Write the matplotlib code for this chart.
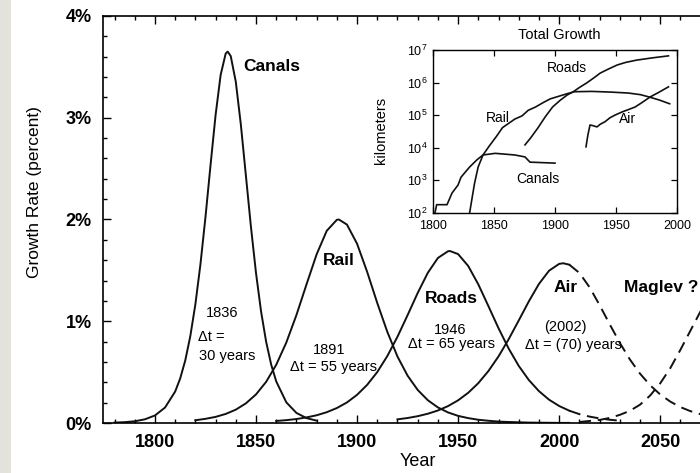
import matplotlib
matplotlib.use('Agg')
import matplotlib.pyplot as plt
from matplotlib.ticker import MultipleLocator, FuncFormatter, NullLocator, FixedLocator
from matplotlib.patches import Rectangle

plt.rcParams['font.family'] = ['Liberation Sans', 'DejaVu Sans']
plt.rcParams['mathtext.fontset'] = 'custom'
plt.rcParams['mathtext.rm'] = 'Liberation Sans'
plt.rcParams['mathtext.it'] = 'Liberation Sans:italic'
plt.rcParams['mathtext.bf'] = 'Liberation Sans:bold'

# ---------------- main chart data (growth rate, percent per year) ----------------
canals_years = [1780, 1785, 1790, 1795, 1800, 1805, 1810, 1812.5, 1815, 1817.5, 1820, 1822.5,
                1825, 1827.5, 1830, 1832.5, 1835, 1836, 1837.5, 1840, 1842.5, 1845, 1847.5,
                1850, 1852.5, 1855, 1857.5, 1860, 1865, 1870, 1875, 1880]
canals_rate = [0.004, 0.008, 0.017, 0.036, 0.074, 0.152, 0.309, 0.438, 0.615, 0.854, 1.166, 1.558,
               2.024, 2.534, 3.026, 3.420, 3.631, 3.650, 3.606, 3.354, 2.933, 2.431, 1.927,
               1.474, 1.097, 0.800, 0.575, 0.409, 0.203, 0.099, 0.048, 0.023]

rail_years = [1820, 1825, 1830, 1835, 1840, 1845, 1850, 1855, 1860, 1865, 1870, 1875, 1880,
              1885, 1890, 1891, 1895, 1900, 1905, 1910, 1915, 1920, 1925, 1930, 1935, 1940,
              1945, 1950, 1955, 1960, 1965, 1970, 1975, 1980, 1985, 1990, 1995, 2000, 2005]
rail_rate = [0.027, 0.041, 0.060, 0.089, 0.131, 0.193, 0.281, 0.404, 0.572, 0.791, 1.061, 1.363,
             1.658, 1.889, 1.997, 2.000, 1.950, 1.762, 1.485, 1.179, 0.894, 0.653, 0.465, 0.325,
             0.224, 0.153, 0.104, 0.070, 0.048, 0.032, 0.022, 0.014, 0.010, 0.007, 0.004,
             0.003, 0.002, 0.001, 0.001]

roads_years = [1860, 1865, 1870, 1875, 1880, 1885, 1890, 1895, 1900, 1905, 1910, 1915, 1920,
               1925, 1930, 1935, 1940, 1945, 1946, 1950, 1955, 1960, 1965, 1970, 1975, 1980,
               1985, 1990, 1995, 2000, 2005, 2010, 2015, 2020, 2025, 2030]
roads_rate = [0.020, 0.028, 0.039, 0.055, 0.076, 0.106, 0.147, 0.202, 0.277, 0.375, 0.501, 0.659,
              0.848, 1.060, 1.278, 1.476, 1.622, 1.688, 1.690, 1.660, 1.543, 1.362, 1.148, 0.931,
              0.732, 0.561, 0.422, 0.313, 0.229, 0.167, 0.121, 0.087, 0.063, 0.045, 0.032, 0.023]

air_years = [1920, 1925, 1930, 1935, 1940, 1945, 1950, 1955, 1960, 1965, 1970, 1975, 1980,
             1985, 1990, 1995, 2000, 2002, 2005, 2010, 2015, 2020, 2025, 2030, 2035, 2040,
             2045, 2050, 2055, 2060, 2065, 2070, 2075, 2080]
air_rate = [0.036, 0.049, 0.067, 0.091, 0.123, 0.166, 0.223, 0.297, 0.392, 0.511, 0.655, 0.823,
            1.008, 1.196, 1.367, 1.497, 1.564, 1.570, 1.556, 1.475, 1.335, 1.159, 0.970, 0.788,
            0.624, 0.485, 0.371, 0.280, 0.210, 0.156, 0.116, 0.086, 0.063, 0.046]

maglev_years = [2010, 2015, 2020, 2025, 2030, 2035, 2040, 2045, 2050, 2055, 2060, 2065, 2070, 2075]
maglev_rate = [0.01, 0.02, 0.03, 0.05, 0.08, 0.12, 0.18, 0.27, 0.39, 0.54, 0.72, 0.91, 1.10, 1.28]

y_ticks = [0, 1, 2, 3, 4]

# ---------------- inset data (total length, km) ----------------
in_canals_years = [1801.6, 1803, 1811.5, 1815.6, 1820.5, 1823, 1830, 1836, 1841, 1851, 1867,
                   1875.4, 1879.5, 1900]
in_canals_km = [100, 180, 180, 410, 720, 1260, 2570, 4270, 6030, 6760, 6030, 5250, 3630, 3390]

in_rail_years = [1830, 1834, 1837, 1841, 1846, 1852, 1857, 1862, 1867, 1873, 1878, 1884, 1890,
                 1896, 1903, 1910, 1916, 1930, 1945, 1960, 1970, 1978, 1986, 1994]
in_rail_km = [100, 794, 2570, 6030, 11200, 22400, 41700, 56200, 75900, 95500, 141000, 178000,
              240000, 316000, 380000, 457000, 525000, 537000, 513000, 479000, 427000, 355000,
              288000, 224000]

in_roads_years = [1875.4, 1880, 1886, 1892, 1898, 1904, 1910, 1915, 1920, 1926, 1932, 1937, 1944,
                  1951, 1958, 1967, 1980, 1993]
in_roads_km = [12300, 20000, 40700, 89100, 178000, 282000, 417000, 525000, 708000, 977000,
               1410000, 1950000, 2630000, 3470000, 4170000, 4900000, 5750000, 6610000]

in_air_years = [1925.4, 1927, 1928.7, 1931, 1934.4, 1937, 1941, 1945, 1949, 1955, 1960, 1965.6,
                1971, 1978, 1985, 1993]
in_air_km = [10700, 25100, 50100, 47900, 43700, 52500, 63100, 83200, 100000, 126000, 148000,
             178000, 240000, 363000, 501000, 741000]

# ---------------- figure ----------------
W, H = 700, 473
fig = plt.figure(figsize=(W / 100, H / 100), dpi=100)
fig.patch.set_facecolor('white')
fig.patches.append(Rectangle((0, 0), 11 / W, 1, transform=fig.transFigure,
                             facecolor='#e4e2dc', edgecolor='none', zorder=-1))

ax = fig.add_axes([103 / W, 1 - 423 / H, 630 / W, 407 / H])
ax.set_xlim(1774.3, 2086)
ax.set_ylim(0, 4)

lw = 1.4
dash = (0, (6, 3.5))
ink = '#111111'


def split(xs, ys, at):
    a = [(x, y) for x, y in zip(xs, ys) if x <= at]
    b = [(x, y) for x, y in zip(xs, ys) if x >= at]
    return list(zip(*a)), list(zip(*b))


ax.plot(canals_years, canals_rate, color=ink, lw=lw)
ax.plot(rail_years, rail_rate, color=ink, lw=lw)
(rs, rd) = split(roads_years, roads_rate, 2005)
ax.plot(rs[0], rs[1], color=ink, lw=lw)
ax.plot(rd[0], rd[1], color=ink, lw=lw, linestyle=dash)
(as_, ad) = split(air_years, air_rate, 2005)
ax.plot(as_[0], as_[1], color=ink, lw=lw)
ax.plot(ad[0], ad[1], color=ink, lw=lw, linestyle=dash)
ax.plot(maglev_years, maglev_rate, color=ink, lw=lw, linestyle=dash)

ax.xaxis.set_major_locator(MultipleLocator(50))
ax.xaxis.set_minor_locator(MultipleLocator(10))
ax.yaxis.set_major_locator(FixedLocator(y_ticks))
ax.yaxis.set_minor_locator(MultipleLocator(0.2))
ax.yaxis.set_major_formatter(FuncFormatter(lambda v, p: f"{int(round(v))}%"))
ax.tick_params(which='both', direction='in', top=True, right=False, colors='black')
ax.tick_params(which='major', length=6, width=1, labelsize=13, pad=8)
ax.tick_params(which='minor', length=3, width=1)
for lab in ax.get_xticklabels() + ax.get_yticklabels():
    lab.set_fontweight('bold')
for s in ['left', 'bottom', 'top']:
    ax.spines[s].set_linewidth(1.2)
ax.spines['right'].set_visible(False)

fig.text(35 / W, 1 - 192 / H, 'Growth Rate (percent)', rotation=90, ha='center', va='center',
         fontsize=12.5)
fig.text(418 / W, 1 - 461 / H, 'Year', ha='center', va='center', fontsize=13)

# bold curve names
bold = dict(fontsize=12.5, fontweight='bold', va='center')
ax.text(1843.6, 3.50, 'Canals', ha='left', **bold)
ax.text(1891.1, 1.60, 'Rail', ha='center', **bold)
ax.text(1946.8, 1.22, 'Roads', ha='center', **bold)
ax.text(2003.0, 1.33, 'Air', ha='center', **bold)
ax.text(2050.5, 1.33, 'Maglev ?', ha='center', **bold)

# annotations
norm = dict(fontsize=10.5, ha='center', va='center')
ax.text(1833.4, 1.08, '1836', **norm)
ax.text(1827.7, 0.845, '\u0394t =', **norm)
ax.text(1835.9, 0.66, '30 years', **norm)
ax.text(1886.1, 0.72, '1891', **norm)
ax.text(1888.4, 0.55, '\u0394t = 55 years', **norm)
ax.text(1946.0, 0.915, '1946', **norm)
ax.text(1946.8, 0.78, '\u0394t = 65 years', **norm)
ax.text(2003.0, 0.943, '(2002)', **norm)
ax.text(2007.0, 0.767, '\u0394t = (70) years', **norm)

# ---------------- inset ----------------
ax2 = fig.add_axes([433 / W, 1 - 213 / H, 244 / W, 163 / H])
ax2.set_facecolor('white')
ax2.set_yscale('log')
ax2.set_xlim(1800, 2000)
ax2.set_ylim(1e2, 1e7)
ilw = 1.2
ax2.plot(in_canals_years, in_canals_km, color=ink, lw=ilw)
ax2.plot(in_rail_years, in_rail_km, color=ink, lw=ilw)
ax2.plot(in_roads_years, in_roads_km, color=ink, lw=ilw)
ax2.plot(in_air_years, in_air_km, color=ink, lw=ilw)
ax2.xaxis.set_major_locator(FixedLocator([1800, 1850, 1900, 1950, 2000]))
ax2.yaxis.set_minor_locator(NullLocator())
ax2.tick_params(which='both', direction='in', top=True, right=True, length=4, width=0.9,
                labelsize=9)
ax2.tick_params(axis='x', pad=5)
ax2.tick_params(axis='y', pad=4)
for s in ax2.spines.values():
    s.set_linewidth(1.0)

inl = dict(fontsize=10, ha='center', va='center')
ax2.text(1909.8, 2.8e6, 'Roads', **inl)
ax2.text(1853.3, 8.1e4, 'Rail', **inl)
ax2.text(1959.8, 7.6e4, 'Air', **inl)
ax2.text(1886.0, 1.1e3, 'Canals', **inl)
fig.text(559 / W, 1 - 35 / H, 'Total Growth', ha='center', va='center', fontsize=10.5)
fig.text(381 / W, 1 - 130 / H, 'kilometers', rotation=90, ha='center', va='center', fontsize=10.5)

fig.savefig('out.png', dpi=100)
